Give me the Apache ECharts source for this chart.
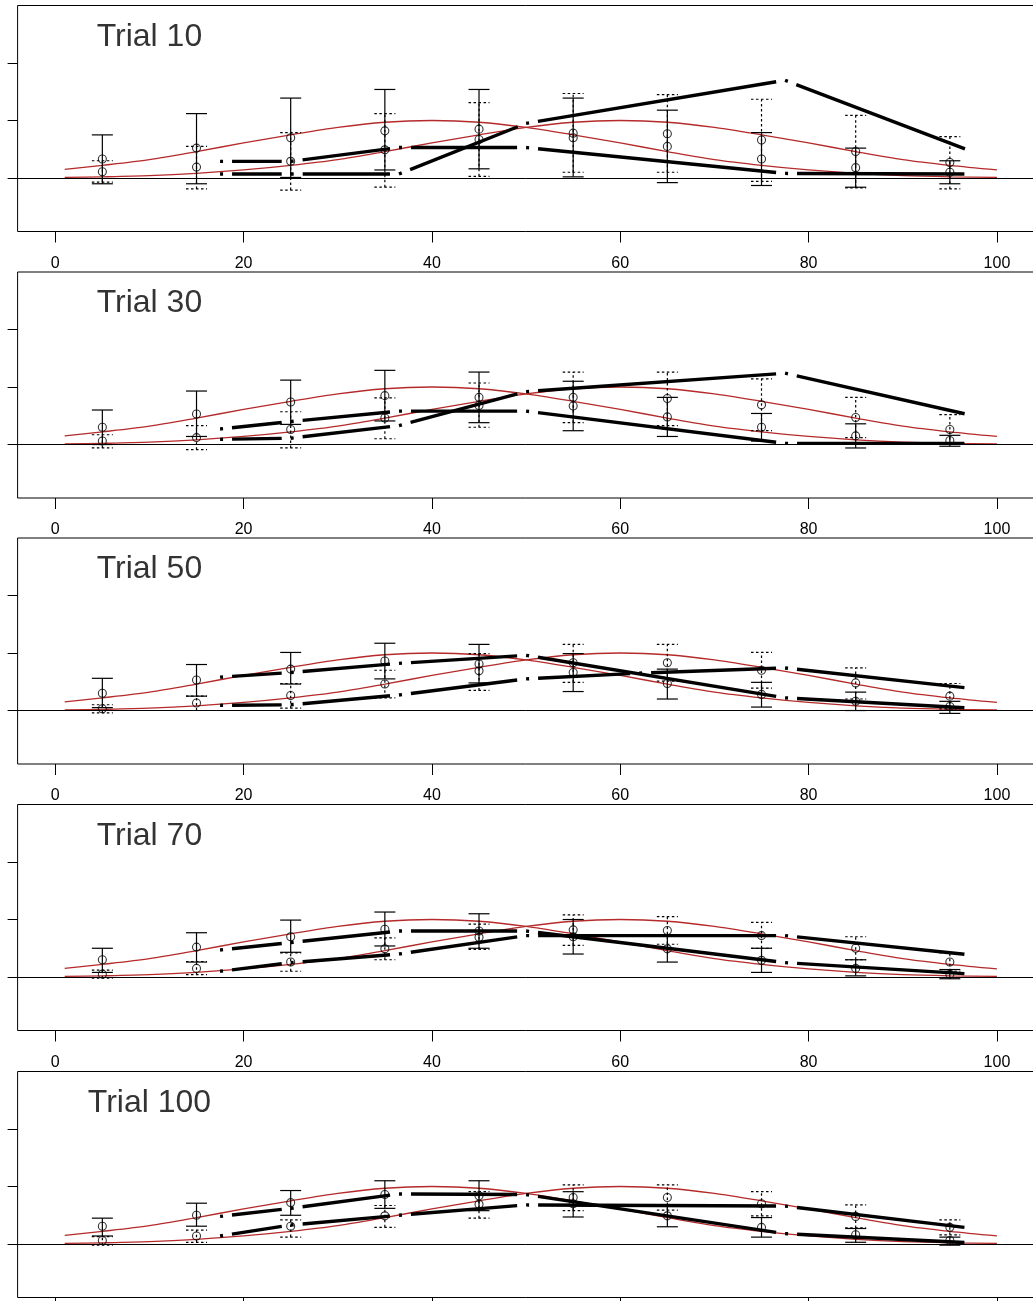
<!DOCTYPE html>
<html><head><meta charset="utf-8">
<script src="https://cdn.jsdelivr.net/npm/echarts@6/dist/echarts.min.js"></script>
<style>html,body{margin:0;padding:0;background:#fff}#c{width:1033px;height:1301px}</style>
</head><body><div id="c"></div>
<script>
// ---------- data ----------
const xTicks = [0, 20, 40, 60, 80, 100];
const yTicks = [0, 1, 2];
const trialLabels = ['Trial 10', 'Trial 30', 'Trial 50', 'Trial 70', 'Trial 100'];
const xBins = [5, 15, 25, 35, 45, 55, 65, 75, 85, 95];

// true tuning curves (red)
const redX = [1, 5, 10, 15, 20, 25, 30, 35, 40, 45, 50, 55, 60, 65, 70, 75, 80, 85, 90, 95, 100];
const red1 = [0.15, 0.22, 0.32, 0.46, 0.61, 0.75, 0.88, 0.97, 1.00, 0.97, 0.88, 0.75, 0.61, 0.46, 0.32, 0.22, 0.14, 0.08, 0.04, 0.02, 0.01];
const red2 = [0.01, 0.02, 0.04, 0.08, 0.14, 0.22, 0.32, 0.46, 0.61, 0.75, 0.88, 0.97, 1.00, 0.97, 0.88, 0.75, 0.61, 0.46, 0.32, 0.22, 0.14];

// neuron 1 (solid error bars)
const n1Mean_t10 = [0.33, 0.52, 0.70, 0.82, 0.85, 0.70, 0.55, 0.33, 0.18, 0.10];
const n1Lo_t10   = [-0.10, -0.10, 0.01, 0.14, 0.16, 0.02, -0.08, -0.13, -0.16, -0.10];
const n1Hi_t10   = [0.75, 1.12, 1.39, 1.54, 1.54, 1.39, 1.18, 0.79, 0.52, 0.30];
const n1Mean_t30 = [0.30, 0.53, 0.74, 0.85, 0.82, 0.67, 0.48, 0.30, 0.15, 0.07];
const n1Lo_t30   = [0.00, 0.14, 0.35, 0.41, 0.38, 0.24, 0.14, 0.06, -0.06, -0.03];
const n1Hi_t30   = [0.60, 0.93, 1.12, 1.29, 1.26, 1.10, 0.82, 0.54, 0.36, 0.16];
const n1Mean_t50 = [0.30, 0.53, 0.72, 0.86, 0.81, 0.66, 0.47, 0.28, 0.16, 0.07];
const n1Lo_t50   = [0.05, 0.25, 0.46, 0.55, 0.48, 0.33, 0.20, 0.06, 0.00, -0.05];
const n1Hi_t50   = [0.56, 0.80, 1.01, 1.17, 1.15, 0.99, 0.72, 0.49, 0.32, 0.16];
const n1Mean_t70 = [0.30, 0.52, 0.70, 0.83, 0.80, 0.70, 0.49, 0.29, 0.15, 0.05];
const n1Lo_t70   = [0.08, 0.26, 0.43, 0.54, 0.50, 0.40, 0.26, 0.08, 0.02, -0.03];
const n1Hi_t70   = [0.50, 0.77, 0.99, 1.13, 1.10, 1.00, 0.72, 0.50, 0.30, 0.13];
const n1Mean_t100 = [0.31, 0.50, 0.72, 0.86, 0.84, 0.70, 0.49, 0.29, 0.16, 0.06];
const n1Lo_t100   = [0.14, 0.31, 0.50, 0.62, 0.58, 0.47, 0.30, 0.12, 0.03, -0.02];
const n1Hi_t100   = [0.45, 0.71, 0.93, 1.10, 1.10, 0.91, 0.68, 0.46, 0.27, 0.12];

// neuron 2 (dotted error bars)
const n2Mean_t10 = [0.11, 0.19, 0.29, 0.49, 0.67, 0.78, 0.77, 0.66, 0.46, 0.27];
const n2Lo_t10   = [-0.07, -0.19, -0.21, -0.16, 0.03, 0.10, 0.10, -0.06, -0.17, -0.19];
const n2Hi_t10   = [0.30, 0.55, 0.79, 1.12, 1.31, 1.47, 1.45, 1.37, 1.09, 0.72];
const n2Mean_t30 = [0.06, 0.12, 0.26, 0.46, 0.68, 0.82, 0.80, 0.69, 0.47, 0.26];
const n2Lo_t30   = [-0.06, -0.09, -0.06, 0.10, 0.30, 0.38, 0.33, 0.24, 0.12, 0.00];
const n2Hi_t30   = [0.17, 0.33, 0.57, 0.81, 1.07, 1.26, 1.26, 1.14, 0.82, 0.52];
const n2Mean_t50 = [0.03, 0.13, 0.26, 0.46, 0.69, 0.83, 0.83, 0.70, 0.48, 0.25];
const n2Lo_t50   = [-0.04, 0.00, 0.04, 0.22, 0.35, 0.49, 0.51, 0.39, 0.20, 0.03];
const n2Hi_t50   = [0.10, 0.25, 0.47, 0.70, 0.99, 1.15, 1.15, 1.01, 0.74, 0.47];
const n2Mean_t70 = [0.05, 0.15, 0.26, 0.49, 0.69, 0.82, 0.81, 0.72, 0.50, 0.26];
const n2Lo_t70   = [-0.02, 0.04, 0.10, 0.30, 0.48, 0.55, 0.57, 0.50, 0.30, 0.10];
const n2Hi_t70   = [0.12, 0.27, 0.42, 0.68, 0.92, 1.08, 1.05, 0.95, 0.70, 0.42];
const n2Mean_t100 = [0.06, 0.14, 0.31, 0.49, 0.69, 0.81, 0.81, 0.70, 0.48, 0.29];
const n2Lo_t100   = [-0.02, 0.03, 0.12, 0.29, 0.45, 0.58, 0.59, 0.49, 0.28, 0.16];
const n2Hi_t100   = [0.13, 0.24, 0.42, 0.67, 0.91, 1.03, 1.03, 0.91, 0.68, 0.42];

// estimated tuning curves (black, dot-dash), knots
const est1X_t10 = [17.5, 25, 36.5, 50, 77.5, 97.5];
const est1Y_t10 = [0.29, 0.29, 0.53, 0.53, 0.08, 0.07];
const est2X_t10 = [17.5, 25, 36.5, 50, 77.5, 97.5];
const est2Y_t10 = [0.07, 0.07, 0.07, 0.95, 1.70, 0.45];
const est1X_t30 = [17.5, 25, 36.5, 50, 77.5, 97.5];
const est1Y_t30 = [0.27, 0.40, 0.58, 0.58, 0.02, 0.02];
const est2X_t30 = [17.5, 25, 36.5, 50, 77.5, 97.5];
const est2Y_t30 = [0.09, 0.11, 0.33, 0.92, 1.24, 0.50];
const est1X_t50 = [17.5, 25, 36.5, 50, 77.5, 97.5];
const est1Y_t50 = [0.58, 0.66, 0.82, 0.96, 0.22, 0.04];
const est2X_t50 = [17.5, 25, 36.5, 50, 62, 77.5, 97.5];
const est2Y_t50 = [0.09, 0.10, 0.27, 0.55, 0.65, 0.74, 0.38];
const est1X_t70 = [17.5, 25, 36.5, 50, 77.5, 97.5];
const est1Y_t70 = [0.47, 0.60, 0.80, 0.80, 0.25, 0.05];
const est2X_t70 = [17.5, 25, 36.5, 50, 77.5, 97.5];
const est2Y_t70 = [0.10, 0.25, 0.40, 0.72, 0.72, 0.38];
const est1X_t100 = [17.5, 25, 36.5, 50, 77.5, 97.5];
const est1Y_t100 = [0.48, 0.62, 0.87, 0.86, 0.18, 0.02];
const est2X_t100 = [17.5, 25, 36.5, 50, 77.5, 97.5];
const est2Y_t100 = [0.14, 0.33, 0.50, 0.68, 0.66, 0.27];

// ---------- assemble ----------
const panels = [
  {n1: [n1Mean_t10, n1Lo_t10, n1Hi_t10], n2: [n2Mean_t10, n2Lo_t10, n2Hi_t10], e1: [est1X_t10, est1Y_t10], e2: [est2X_t10, est2Y_t10]},
  {n1: [n1Mean_t30, n1Lo_t30, n1Hi_t30], n2: [n2Mean_t30, n2Lo_t30, n2Hi_t30], e1: [est1X_t30, est1Y_t30], e2: [est2X_t30, est2Y_t30]},
  {n1: [n1Mean_t50, n1Lo_t50, n1Hi_t50], n2: [n2Mean_t50, n2Lo_t50, n2Hi_t50], e1: [est1X_t50, est1Y_t50], e2: [est2X_t50, est2Y_t50]},
  {n1: [n1Mean_t70, n1Lo_t70, n1Hi_t70], n2: [n2Mean_t70, n2Lo_t70, n2Hi_t70], e1: [est1X_t70, est1Y_t70], e2: [est2X_t70, est2Y_t70]},
  {n1: [n1Mean_t100, n1Lo_t100, n1Hi_t100], n2: [n2Mean_t100, n2Lo_t100, n2Hi_t100], e1: [est1X_t100, est1Y_t100], e2: [est2X_t100, est2Y_t100]}
];

const TOPS = [5.5, 272, 538, 804.5, 1071.5];
const PANEL_H = 226;
const X_MIN = -4, X_MAX = 104, Y_MIN = -0.93, Y_MAX = 3.0;
const FONT = 'Liberation Sans, Arial, sans-serif';

function errRender(dotted) {
  return function (params, api) {
    const x = api.value(0), lo = api.value(1), hi = api.value(2);
    const a = api.coord([x, lo]), b = api.coord([x, hi]);
    const hw = 10.5;
    const st = {stroke: '#000', lineWidth: 1.2, fill: null};
    if (dotted) st.lineDash = [2.5, 2.5];
    return {type: 'group', children: [
      {type: 'line', shape: {x1: a[0], y1: a[1], x2: b[0], y2: b[1]}, style: st},
      {type: 'line', shape: {x1: a[0] - hw, y1: a[1], x2: a[0] + hw, y2: a[1]}, style: st},
      {type: 'line', shape: {x1: b[0] - hw, y1: b[1], x2: b[0] + hw, y2: b[1]}, style: st}
    ]};
  };
}
function segRender(params, api) {
  const a = api.coord([api.value(0), api.value(1)]);
  const b = api.coord([api.value(2), api.value(3)]);
  const len = Math.hypot(b[0] - a[0], b[1] - a[1]);
  const dash = [3, 9, Math.max(len - 21, 1), 9];
  return {type: 'line', shape: {x1: a[0], y1: a[1], x2: b[0], y2: b[1]},
    style: {stroke: '#000', lineWidth: 3.4, lineDash: dash, lineCap: 'butt', fill: null}};
}
function segs(X, Y) {
  const out = [];
  for (let i = 0; i < X.length - 1; i++) out.push([X[i], Y[i], X[i + 1], Y[i + 1]]);
  return out;
}

const grid = [], xAxis = [], yAxis = [], series = [];
panels.forEach((p, i) => {
  grid.push({left: 17.6, top: TOPS[i], width: 1017, height: PANEL_H, show: true,
    outerBoundsMode: 'none', containLabel: false,
    borderColor: '#000', borderWidth: 1, backgroundColor: 'transparent'});
  xAxis.push({gridIndex: i, type: 'value', min: X_MIN, max: X_MAX,
    axisLine: {show: false, onZero: false}, splitLine: {show: false},
    axisTick: {show: true, length: 11, customValues: xTicks, lineStyle: {color: '#000', width: 1}},
    axisLabel: {show: true, customValues: xTicks, margin: 24, color: '#000', fontSize: 16, fontFamily: FONT}});
  yAxis.push({gridIndex: i, type: 'value', min: Y_MIN, max: Y_MAX,
    axisLine: {show: false, onZero: false}, splitLine: {show: false},
    axisTick: {show: true, length: 10, customValues: yTicks, lineStyle: {color: '#000', width: 1}},
    axisLabel: {show: false}});
  const red = c => redX.map((x, k) => [x, c[k]]);
  series.push({type: 'line', xAxisIndex: i, yAxisIndex: i, data: red(red1), showSymbol: false, smooth: 0.3,
    lineStyle: {color: '#b52a2a', width: 1.3}, z: 2,
    markLine: {silent: true, symbol: 'none', label: {show: false}, animation: false,
      lineStyle: {color: '#000', width: 1, type: 'solid'}, data: [{yAxis: 0}]}});
  series.push({type: 'line', xAxisIndex: i, yAxisIndex: i, data: red(red2), showSymbol: false, smooth: 0.3,
    lineStyle: {color: '#b52a2a', width: 1.3}, z: 2});
  [p.e1, p.e2].forEach(e => series.push({type: 'custom', xAxisIndex: i, yAxisIndex: i,
    data: segs(e[0], e[1]), encode: {x: [0, 2], y: [1, 3]}, renderItem: segRender, z: 3}));
  series.push({type: 'custom', xAxisIndex: i, yAxisIndex: i,
    data: xBins.map((x, k) => [x, p.n1[1][k], p.n1[2][k]]), encode: {x: 0, y: [1, 2]},
    renderItem: errRender(false), z: 4});
  series.push({type: 'custom', xAxisIndex: i, yAxisIndex: i,
    data: xBins.map((x, k) => [x, p.n2[1][k], p.n2[2][k]]), encode: {x: 0, y: [1, 2]},
    renderItem: errRender(true), z: 4});
  [p.n1[0], p.n2[0]].forEach(m => series.push({type: 'scatter', xAxisIndex: i, yAxisIndex: i,
    data: xBins.map((x, k) => [x, m[k]]), symbol: 'circle', symbolSize: 8,
    itemStyle: {color: 'rgba(0,0,0,0)', borderColor: '#000', borderWidth: 1.1}, z: 5}));
  series.push({type: 'scatter', xAxisIndex: i, yAxisIndex: i, data: [[10, 2.45]], symbolSize: 1,
    itemStyle: {color: 'rgba(0,0,0,0)'}, silent: true,
    label: {show: true, position: 'inside', formatter: trialLabels[i], fontSize: 32, color: '#000', fontFamily: FONT}});
});

const chart = echarts.init(document.getElementById('c'), null, {renderer: 'canvas'});
chart.setOption({animation: false, backgroundColor: '#fff', grid, xAxis, yAxis, series});
</script></body></html>
